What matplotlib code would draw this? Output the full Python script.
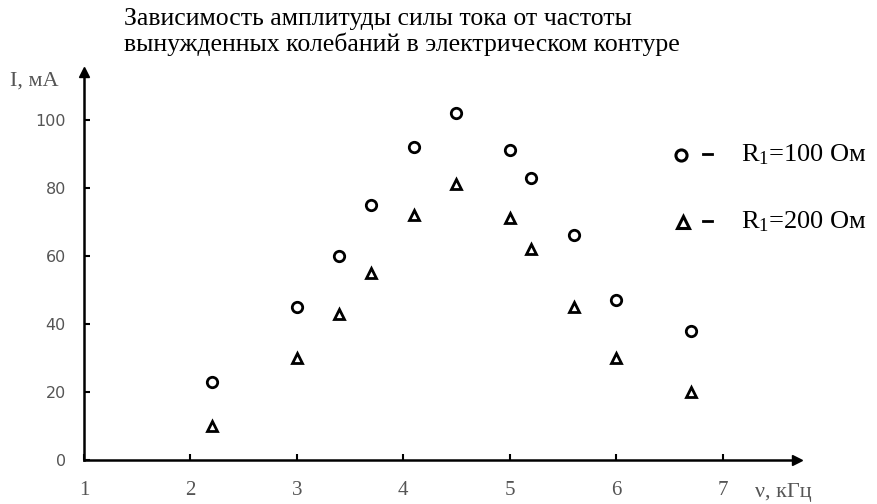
import numpy as np
import matplotlib.pyplot as plt
from matplotlib.lines import Line2D

plt.rcParams["font.family"] = "Liberation Serif"
plt.rcParams["mathtext.fontset"] = "custom"
plt.rcParams["mathtext.rm"] = "Liberation Serif"
plt.rcParams["mathtext.it"] = "Liberation Serif:italic"

# frequency, kHz
freq = [2.2, 3.0, 3.4, 3.7, 4.1, 4.5, 5.0, 5.2, 5.6, 6.0, 6.7]
# current amplitude, mA
I_100 = [23, 45, 60, 75, 92, 102, 91, 83, 66, 47, 38]
I_200 = [10, 30, 43, 55, 72, 81, 71, 62, 45, 30, 20]
x_ticks = [1, 2, 3, 4, 5, 6, 7]
y_ticks = [0, 20, 40, 60, 80, 100]

W, H = 878, 504
fig = plt.figure(figsize=(W / 100, H / 100), dpi=100)
ax = fig.add_axes([84 / W, (H - 460) / H, (797 - 84) / W, (460 - 72) / H])
ax.set_xlim(1, 7.7)
ax.set_ylim(0, 114)

ax.plot(freq, I_100, 'o', ls='none', mfc='white', mec='black', ms=7.5, mew=2, clip_on=False)
ax.plot(freq, I_200, '^', ls='none', mfc='white', mec='black', ms=7.5, mew=2, clip_on=False)

for s in ['top', 'right']:
    ax.spines[s].set_visible(False)
for s in ['left', 'bottom']:
    ax.spines[s].set_linewidth(1.8)
# arrow heads
ax.plot(0, 1, '^', color='black', ms=7, transform=ax.transAxes, clip_on=False)
ax.plot(1, 0, '>', color='black', ms=7, transform=ax.transAxes, clip_on=False)

ax.set_xticks(x_ticks)
ax.set_yticks(y_ticks)
ax.tick_params(direction='in', length=4, width=1.5, colors='black')
ax.tick_params(axis='x', pad=15, labelsize=15, labelcolor='#555555')
ax.tick_params(axis='y', pad=13, labelsize=11.5, labelcolor='#555555')
for lab in ax.get_yticklabels():
    lab.set_family('DejaVu Sans')

fig.text(10 / W, 1 - 81 / H, "I, мА", fontsize=16, color='#555555', va='center', ha='left')
fig.text(755 / W, 1 - 493 / H, "ν, кГц", fontsize=16, color='#555555', va='center', ha='left')

fig.text(124 / W, 1 - 8 / H, "Зависимость амплитуды силы тока от частоты\nвынужденных колебаний в электрическом контуре",
         fontsize=18.5, va='top', ha='left', linespacing=1.15)

# legend drawn by hand
fig.add_artist(Line2D([681 / W], [1 - 155 / H], marker='o', mfc='white', mec='black', ms=8, mew=2.2,
                      transform=fig.transFigure))
fig.add_artist(Line2D([683 / W], [1 - 222 / H], marker='^', mfc='white', mec='black', ms=9, mew=2.2,
                      transform=fig.transFigure))
fig.add_artist(Line2D([703 / W, 712 / W], [1 - 154 / H] * 2, color='black', lw=2, transform=fig.transFigure))
fig.add_artist(Line2D([703 / W, 712 / W], [1 - 221 / H] * 2, color='black', lw=2, transform=fig.transFigure))
fig.text(741 / W, 1 - 155 / H, "R$_1$=100 Ом", fontsize=19, va='center', ha='left')
fig.text(741 / W, 1 - 222 / H, "R$_1$=200 Ом", fontsize=19, va='center', ha='left')

fig.savefig("out.png", dpi=100)
